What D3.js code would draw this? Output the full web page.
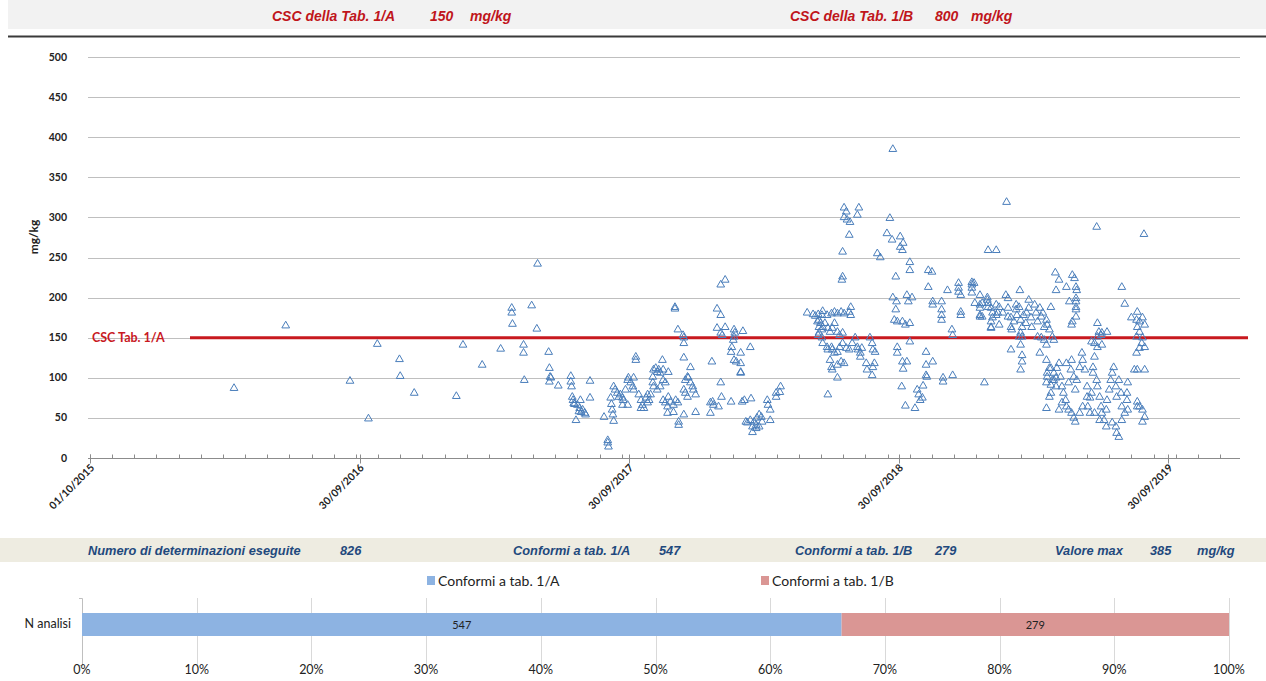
<!DOCTYPE html>
<meta charset="utf-8">
<script src="https://cdn.jsdelivr.net/npm/d3@7"></script>
<style>
  body { margin: 0; background: #fff; }
  .narrow { font-family: "Liberation Sans Narrow", "Arial Narrow", sans-serif; font-style: italic; font-weight: bold; }
  .cal { font-family: Lato, "Open Sans", sans-serif; }
</style>
<div id="chart"></div>
<script>

// limits from the tables
var limitA = 150, limitB = 800;

// summary row
var nTotal = 826, nConfA = 547, nConfB = 279, maxValue = 385;

// date axis labels (every 365 days from the start)
var dateLabels = ["2015-10-01", "2016-09-30", "2017-09-30", "2018-09-30", "2019-09-30"];
var dateDomain = ["2015-10-01", "2020-01-01"];
var yTicks = [0, 50, 100, 150, 200, 250, 300, 350, 400, 450, 500];
var pctTicks = [0, 0.1, 0.2, 0.3, 0.4, 0.5, 0.6, 0.7, 0.8, 0.9, 1];

// measurements [date, mg/kg]
var pts2016 = [["2016-04-13",87],["2016-06-22",165],["2016-09-17",96]];

var pts2017 = [["2016-10-12",49],["2016-10-24",142],["2016-11-23",123],["2016-11-24",102],["2016-12-13",81],["2017-02-08",77],["2017-02-17",141],["2017-03-15",116],["2017-04-09",136],["2017-04-24",187],["2017-04-24",181],["2017-04-25",167],["2017-05-10",141],["2017-05-10",131],["2017-05-11",97],["2017-05-21",190],["2017-05-28",161],["2017-05-29",242],["2017-06-13",132],["2017-06-14",112],["2017-06-15",101],["2017-06-16",100],["2017-06-14",95],["2017-06-26",90],["2017-07-13",102],["2017-07-13",95],["2017-07-14",89],["2017-07-15",76],["2017-07-16",72],["2017-07-17",68],["2017-07-18",67],["2017-07-20",47],["2017-07-22",66],["2017-07-25",62],["2017-07-27",57],["2017-07-29",60],["2017-08-01",56],["2017-08-02",54],["2017-07-26",72],["2017-07-24",58],["2017-08-08",96],["2017-08-08",75],["2017-08-27",51],["2017-09-01",22],["2017-09-01",19],["2017-09-02",14],["2017-09-05",75],["2017-09-06",67],["2017-09-07",60],["2017-09-08",54],["2017-09-09",46],["2017-09-09",89],["2017-09-11",85],["2017-09-14",81],["2017-09-16",76],["2017-09-18",79],["2017-09-21",75],["2017-09-22",72],["2017-09-21",66],["2017-09-25",85],["2017-09-28",97],["2017-09-29",100],["2017-09-28",66]];

var pts2018 = [["2017-10-02",94],["2017-10-05",89],["2017-10-06",100],["2017-10-06",85],["2017-10-09",126],["2017-10-09",122],["2017-10-13",79],["2017-10-16",72],["2017-10-18",66],["2017-10-16",62],["2017-10-20",62],["2017-10-23",75],["2017-10-25",79],["2017-10-27",72],["2017-10-25",69],["2017-10-29",79],["2017-11-01",94],["2017-11-02",110],["2017-11-05",112],["2017-11-07",107],["2017-11-09",110],["2017-11-11",106],["2017-11-14",122],["2017-11-15",110],["2017-11-22",107],["2017-11-01",101],["2017-11-02",89],["2017-11-07",85],["2017-11-11",89],["2017-11-15",97],["2017-11-18",94],["2017-11-15",72],["2017-11-18",69],["2017-11-21",64],["2017-11-22",76],["2017-11-25",70],["2017-11-29",66],["2017-12-02",72],["2017-12-05",69],["2017-11-21",56],["2017-11-29",57],["2017-12-06",45],["2017-12-06",41],["2017-12-01",188],["2017-12-01",186],["2017-12-05",160],["2017-12-12",153],["2017-12-13",150],["2017-12-13",143],["2017-12-13",125],["2017-12-22",113],["2017-12-15",97],["2017-12-18",101],["2017-12-19",100],["2017-12-22",94],["2017-12-25",89],["2017-12-26",85],["2017-12-29",79],["2017-12-13",85],["2017-12-15",81],["2017-12-18",76],["2017-12-13",54],["2017-12-29",57],["2018-01-18",69],["2018-01-21",70],["2018-01-22",66],["2018-01-29",64],["2018-02-02",76],["2018-02-01",94],["2018-01-20",120],["2018-01-18",56],["2018-01-27",186],["2018-02-01",178],["2018-01-27",162],["2018-02-01",156],["2018-02-03",153],["2018-02-07",163],["2018-02-01",216],["2018-02-07",222],["2018-02-15",70],["2018-02-19",160],["2018-02-20",156],["2018-02-19",151],["2018-02-18",147],["2018-02-16",138],["2018-02-15",132],["2018-02-19",122],["2018-02-22",120],["2018-02-28",131],["2018-02-28",118],["2018-02-28",107],["2018-02-28",106],["2018-03-03",158],["2018-03-13",138],["2018-03-02",70],["2018-03-05",72],["2018-03-14",74],["2018-03-07",45],["2018-03-09",44],["2018-03-13",47],["2018-03-16",39],["2018-03-16",32],["2018-03-18",45],["2018-03-21",41],["2018-03-22",50],["2018-03-25",54],["2018-03-28",51],["2018-03-29",45],["2018-03-25",39],["2018-03-21",37],["2018-04-05",72],["2018-04-06",66],["2018-04-09",60],["2018-04-09",47],["2018-04-17",81],["2018-04-17",76],["2018-04-23",89],["2018-04-22",82],
["2018-05-29",181],["2018-06-06",179],["2018-06-13",179],["2018-06-18",178],["2018-06-19",183],["2018-06-25",178],["2018-07-01",180],["2018-07-05",182],["2018-07-09",180],["2018-07-14",182],["2018-07-18",180],["2018-07-25",182],["2018-07-27",188],["2018-07-27",178],["2018-06-09",177],["2018-06-14",172],["2018-06-14",163],["2018-06-14",156],["2018-06-12",170],["2018-06-16",168],["2018-06-18",160],["2018-06-19",163],["2018-06-22",168],["2018-06-26",162],["2018-06-29",157],["2018-07-02",162],["2018-07-05",168],["2018-07-09",157],["2018-07-12",153],["2018-07-16",156],["2018-06-13",153],["2018-06-18",150],["2018-06-19",143],["2018-06-25",138],["2018-06-26",135],["2018-07-01",138],["2018-07-02",135],["2018-07-05",131],["2018-07-09",132],["2018-07-12",138],["2018-07-16",143],["2018-07-21",137],["2018-07-25",135],["2018-07-29",143],["2018-08-02",150],["2018-08-05",138],["2018-08-06",135],["2018-08-09",131],["2018-08-11",137],["2018-08-09",126],["2018-08-22",150],["2018-08-25",143],["2018-08-26",135],["2018-08-29",132],["2018-06-29",122],["2018-07-01",113],["2018-07-02",110],["2018-07-09",116],["2018-07-14",120],["2018-07-18",118],["2018-07-09",100],["2018-06-26",79],["2018-07-16",226],["2018-07-15",222],["2018-07-16",257],["2018-07-18",312],["2018-07-21",307],["2018-07-18",300],["2018-07-22",297],["2018-07-26",294],["2018-08-05",303],["2018-08-07",312],["2018-07-25",278],["2018-08-17",118],["2018-08-18",110],["2018-08-25",103],["2018-08-26",113],["2018-08-28",118],["2018-09-01",255],["2018-09-05",250],["2018-09-14",280],["2018-09-21",272],["2018-09-18",299],["2018-09-22",385],["2018-09-26",226],["2018-09-22",200],["2018-09-27",195],["2018-09-26",185],["2018-09-24",172],["2018-09-28",170],["2018-09-28",138],["2018-09-28",131]];

var pts2019 = [["2018-10-02",276],["2018-10-06",268],["2018-10-02",263],["2018-10-05",259],["2018-10-15",244],["2018-10-15",234],["2018-10-13",195],["2018-10-18",200],["2018-10-11",203],["2018-10-05",170],["2018-10-09",166],["2018-10-15",168],["2018-10-15",145],["2018-10-05",120],["2018-10-11",120],["2018-10-06",111],["2018-10-04",89],["2018-10-09",65],["2018-10-22",62],["2018-10-25",85],["2018-10-27",79],["2018-10-29",72],["2018-11-01",75],["2018-11-02",90],["2018-11-06",132],["2018-11-06",116],["2018-11-06",103],["2018-11-07",101],["2018-11-15",120],["2018-11-09",234],["2018-11-14",232],["2018-11-09",213],["2018-11-15",195],["2018-11-15",191],["2018-11-27",195],["2018-11-27",185],["2018-11-27",178],["2018-11-27",172],["2018-12-05",209],["2018-11-29",100],["2018-11-29",95],["2018-12-12",103],["2018-12-11",160],["2018-12-12",153],["2018-12-20",218],["2018-12-20",212],["2018-12-20",207],["2018-12-23",203],["2018-12-23",182],["2018-12-23",178],["2019-01-07",219],["2019-01-07",216],["2019-01-07",212],["2019-01-07",206],["2019-01-10",218],["2019-01-11",193],["2019-01-18",203],["2019-01-18",191],["2019-01-18",187],["2019-01-18",178],["2019-01-18",176],["2019-01-24",94],["2019-01-29",259],["2019-02-09",259],["2019-01-28",200],["2019-01-29",193],["2019-02-02",187],["2019-02-04",181],["2019-02-02",170],["2019-02-02",162],["2019-02-09",191],["2019-02-11",181],["2019-01-21",193],["2019-01-21",176],["2019-01-28",197],["2019-01-29",188],["2019-02-02",163],["2019-02-04",175],["2019-02-09",178],["2019-02-13",188],["2019-02-13",166],["2019-02-18",181],["2019-02-22",203],["2019-02-25",199],["2019-02-25",187],["2019-02-25",176],["2019-02-23",319],["2019-03-01",175],["2019-03-01",163],["2019-03-02",160],["2019-03-05",170],["2019-03-08",191],["2019-03-08",185],["2019-03-09",178],["2019-03-12",188],["2019-03-14",172],["2019-03-16",163],["2019-03-14",156],["2019-03-18",178],["2019-03-21",168],["2019-03-22",181],["2019-03-25",197],["2019-03-25",187],["2019-03-28",175],["2019-03-29",163],["2019-04-02",191],["2019-04-04",181],["2019-04-06",170],["2019-04-09",187],["2019-04-11",176],["2019-04-13",181],["2019-04-15",163],["2019-04-18",172],["2019-04-19",166],["2019-04-22",160],["2019-04-24",188],["2019-04-26",151],["2019-04-28",147],["2019-03-12",151],["2019-03-16",151],["2019-04-06",151],["2019-04-11",150],["2019-04-15",147],["2019-04-18",141],["2019-03-13",209],["2019-03-01",135],["2019-03-14",141],["2019-03-16",128],["2019-03-16",120],["2019-03-14",110],["2019-04-09",131],["2019-04-18",122],["2019-04-22",112],["2019-04-19",106],["2019-04-28",97],["2019-04-24",91],["2019-05-01",100],["2019-04-30",231],["2019-05-05",222],["2019-05-01",209],["2019-05-15",213],["2019-05-23",228],["2019-05-26",224],["2019-05-28",213],["2019-05-29",209],["2019-05-28",199],["2019-05-28",195],["2019-05-28",188],["2019-05-28",185],["2019-05-28",176],["2019-05-23",170],["2019-05-22",166],["2019-05-19",195],["2019-07-29",213],["2019-08-02",192],
["2019-08-11",175],["2019-08-19",182],["2019-08-18",172],["2019-08-22",170],["2019-08-26",175],["2019-08-29",166],["2019-08-19",163],["2019-08-22",157],["2019-08-18",151],["2019-08-26",150],["2019-08-25",143],["2019-08-29",138],["2019-08-22",137],["2019-08-18",131],["2019-08-19",110],["2019-08-29",110],["2019-08-15",110],["2019-06-26",168],["2019-06-28",157],["2019-07-01",153],["2019-07-02",156],["2019-07-09",157],["2019-06-26",151],["2019-06-22",143],["2019-06-26",138],["2019-07-02",141],["2019-06-18",145],["2019-06-25",288],["2019-08-28",279],
["2019-04-18",62],["2019-04-22",76],["2019-04-24",81],["2019-04-26",97],["2019-04-28",106],["2019-05-02",112],["2019-05-05",118],["2019-05-07",101],["2019-05-09",89],["2019-05-11",81],["2019-05-14",72],["2019-05-15",64],["2019-05-18",94],["2019-05-21",110],["2019-05-22",122],["2019-05-25",101],["2019-05-27",85],["2019-05-29",97],["2019-06-02",113],["2019-06-05",131],["2019-06-06",122],["2019-06-09",110],["2019-06-12",89],["2019-06-12",76],["2019-06-13",64],["2019-06-16",56],["2019-06-16",75],["2019-06-18",81],["2019-06-20",106],["2019-06-20",113],["2019-06-22",126],["2019-06-25",97],["2019-06-26",89],["2019-06-29",76],["2019-07-01",64],["2019-07-02",56],["2019-07-05",47],["2019-07-08",60],["2019-07-09",72],["2019-07-12",85],["2019-07-14",97],["2019-07-16",106],["2019-07-18",113],["2019-07-21",89],["2019-07-22",76],["2019-07-25",97],["2019-07-28",81],["2019-07-29",64],["2019-08-02",56],["2019-08-05",72],["2019-08-06",60],["2019-07-21",39],["2019-07-22",31],["2019-07-25",26],["2019-07-16",44],["2019-07-08",39],["2019-06-29",47],["2019-06-22",56],["2019-05-22",56],["2019-05-25",50],["2019-05-27",45],["2019-05-18",60],["2019-05-09",69],["2019-05-05",60],["2019-04-18",94],["2019-04-19",101],["2019-04-24",112],["2019-05-01",89],["2019-05-15",118],["2019-06-02",56],["2019-06-06",64],["2019-08-19",70],["2019-08-22",64],["2019-08-26",60],["2019-08-29",51],["2019-08-26",45],["2019-08-19",64],["2019-07-29",47],["2019-08-05",81],["2019-08-06",94]];

// bar chart
var barCats = ["Conformi a tab. 1/A", "Conformi a tab. 1/B"];
var barVals = [nConfA, nConfB];
var barColors = ["#8db3e2", "#da9694"];

var W = 1266, H = 681;
var parse = d3.timeParse("%Y-%m-%d");
var fmt = d3.timeFormat("%d/%m/%Y");

var svg = d3.select("#chart").append("svg")
    .attr("width", W).attr("height", H);

// ---- header band
svg.append("rect").attr("x", 8).attr("y", 0).attr("width", W - 8).attr("height", 29).attr("fill", "#f2f2f2");
svg.append("line").attr("x1", 8).attr("x2", W).attr("y1", 36.5).attr("y2", 36.5)
    .attr("stroke", "#3a3a3a").attr("stroke-width", 2);

var red = "#c0151b";
function headText(x, s) {
    svg.append("text").attr("class", "narrow").attr("x", x).attr("y", 21)
        .attr("font-size", 14).attr("fill", red).text(s);
}
headText(272, "CSC della Tab. 1/A");
headText(430, limitA);
headText(470, "mg/kg");
headText(790, "CSC della Tab. 1/B");
headText(935, limitB);
headText(971, "mg/kg");

// ---- scatter
var x = d3.scaleTime().domain(dateDomain.map(parse)).range([90, 1237]);
var y = d3.scaleLinear().domain([0, 500]).range([458, 57]);

// gridlines
svg.append("g").selectAll("line").data(yTicks.filter(function(d){ return d > 0; }))
    .enter().append("line")
    .attr("x1", 88).attr("x2", 1240)
    .attr("y1", function(d){ return Math.round(y(d)) + 0.5; })
    .attr("y2", function(d){ return Math.round(y(d)) + 0.5; })
    .attr("stroke", "#bfbfbf").attr("stroke-width", 1.2);

// y labels
svg.append("g").selectAll("text").data(yTicks).enter().append("text")
    .attr("class", "cal")
    .attr("x", 67).attr("y", function(d){ return y(d) + 3.5; })
    .attr("text-anchor", "end").attr("font-size", 10.5).attr("font-weight", "bold")
    .attr("fill", "#222").text(function(d){ return d; });

svg.append("text").attr("class", "cal")
    .attr("transform", "translate(38,237)rotate(-90)")
    .attr("text-anchor", "middle").attr("font-size", 12).attr("font-weight", "bold")
    .attr("fill", "#222").text("mg/kg");

// x axis line
var axisY = Math.round(y(0)) + 0.5;
svg.append("line").attr("x1", 88).attr("x2", 1240).attr("y1", axisY).attr("y2", axisY)
    .attr("stroke", "#8c8c8c").attr("stroke-width", 1);

// minor ticks every 30 days, major every 365
var minor = d3.timeDay.range(parse(dateDomain[0]), parse(dateDomain[1]), 30);
svg.append("g").selectAll("line").data(minor).enter().append("line")
    .attr("x1", function(d){ return Math.round(x(d)) + 0.5; })
    .attr("x2", function(d){ return Math.round(x(d)) + 0.5; })
    .attr("y1", axisY - 4).attr("y2", axisY)
    .attr("stroke", "#8c8c8c");
svg.append("g").selectAll("line").data(dateLabels).enter().append("line")
    .attr("x1", function(d){ return Math.round(x(parse(d))) + 0.5; })
    .attr("x2", function(d){ return Math.round(x(parse(d))) + 0.5; })
    .attr("y1", axisY - 4).attr("y2", axisY + 5)
    .attr("stroke", "#8c8c8c");

svg.append("g").selectAll("text").data(dateLabels).enter().append("text")
    .attr("class", "cal")
    .attr("transform", function(d){ return "translate(" + (x(parse(d)) + 5) + "," + (axisY + 10) + ")rotate(-45)"; })
    .attr("text-anchor", "end").attr("font-size", 10.5).attr("font-weight", "bold")
    .attr("fill", "#222")
    .text(function(d){ return fmt(parse(d)); });

// CSC line
svg.append("line").attr("x1", 190).attr("x2", 1248)
    .attr("y1", y(limitA)).attr("y2", y(limitA))
    .attr("stroke", "#c8191f").attr("stroke-width", 3);
svg.append("text").attr("class", "cal").attr("x", 92).attr("y", y(limitA) + 4)
    .attr("font-size", 12.5).attr("font-weight", "bold").attr("fill", "#c8191f")
    .text("CSC Tab. 1/A");

// points
var allPts = pts2016.concat(pts2017, pts2018, pts2019);
var tri = d3.symbol().type(d3.symbolTriangle).size(26);
svg.append("g").selectAll("path").data(allPts).enter().append("path")
    .attr("d", tri)
    .attr("transform", function(d){ return "translate(" + x(parse(d[0])) + "," + y(d[1]) + ")"; })
    .attr("fill", "none").attr("stroke", "#4a7ebb").attr("stroke-width", 1);

// ---- summary band
svg.append("rect").attr("x", 0).attr("y", 538).attr("width", W).attr("height", 24).attr("fill", "#eeece1");
var blue = "#1f497d";
function sumText(x, s) {
    svg.append("text").attr("class", "narrow").attr("x", x).attr("y", 555)
        .attr("font-size", 12.8).attr("fill", blue).text(s);
}
sumText(88, "Numero di determinazioni eseguite");
sumText(340, nTotal);
sumText(513, "Conformi a tab. 1/A");
sumText(659, nConfA);
sumText(795, "Conformi a tab. 1/B");
sumText(935, nConfB);
sumText(1055, "Valore max");
sumText(1150, maxValue);
sumText(1197, "mg/kg");

// ---- legend
var legX = [427, 761];
barCats.forEach(function(c, i) {
    svg.append("rect").attr("x", legX[i]).attr("y", 576).attr("width", 8).attr("height", 9).attr("fill", barColors[i]);
    svg.append("text").attr("class", "cal").attr("x", legX[i] + 11).attr("y", 585.5)
        .attr("font-size", 14).attr("fill", "#222").text(c);
});

// ---- stacked bar
var bx = d3.scaleLinear().domain([0, 1]).range([82, 1229]);
svg.append("g").selectAll("line").data(pctTicks.slice(1)).enter().append("line")
    .attr("x1", function(d){ return Math.round(bx(d)) + 0.5; })
    .attr("x2", function(d){ return Math.round(bx(d)) + 0.5; })
    .attr("y1", 598).attr("y2", 665)
    .attr("stroke", "#d9d9d9");
svg.append("path").attr("d", "M79,598.5H82.5V665.5H79")
    .attr("fill", "none").attr("stroke", "#bfbfbf");

var tot = d3.sum(barVals);
var acc = 0;
var segs = barVals.map(function(v, i) { var s = {v: v, c: barColors[i], x0: acc / tot, x1: (acc + v) / tot}; acc += v; return s; });
svg.append("g").selectAll("rect").data(segs).enter().append("rect")
    .attr("x", function(d){ return bx(d.x0); })
    .attr("width", function(d){ return bx(d.x1) - bx(d.x0); })
    .attr("y", 613).attr("height", 23)
    .attr("fill", function(d){ return d.c; });
svg.append("g").selectAll("text").data(segs).enter().append("text")
    .attr("class", "cal")
    .attr("x", function(d){ return (bx(d.x0) + bx(d.x1)) / 2; })
    .attr("y", 628.5).attr("text-anchor", "middle").attr("font-size", 11)
    .attr("fill", "#222").text(function(d){ return d.v; });

svg.append("text").attr("class", "cal").attr("x", 71).attr("y", 628)
    .attr("text-anchor", "end").attr("font-size", 12.5).attr("fill", "#222").text("N analisi");

svg.append("g").selectAll("text").data(pctTicks).enter().append("text")
    .attr("class", "cal")
    .attr("x", function(d){ return bx(d); }).attr("y", 674)
    .attr("text-anchor", "middle").attr("font-size", 12.5).attr("fill", "#222")
    .text(function(d){ return Math.round(d * 100) + "%"; });

</script>
